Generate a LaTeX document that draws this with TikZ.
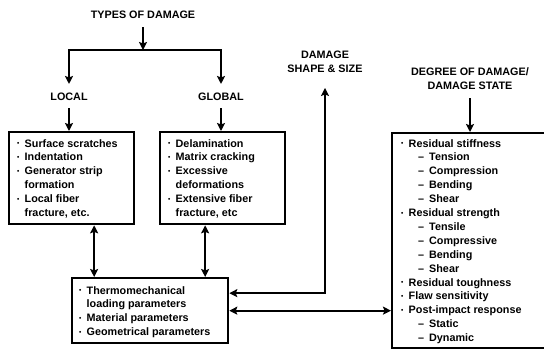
\documentclass[tikz,border=0pt]{standalone}
\usepackage{fontspec}
\setmainfont{Liberation Sans}
\usetikzlibrary{arrows.meta}
\newcommand\dotb{\makebox[7.5pt][l]{\raisebox{1.3pt}{\fontsize{6.5}{6.5}\selectfont •}}}
\newcommand\bl[1]{\dotb#1}
\newcommand\cn[1]{\hspace*{7.5pt}#1}
\newcommand\sbl[1]{\hspace*{17pt}\makebox[11pt][l]{–}#1}
\tikzset{
  boxnode/.style={draw, line width=2.3pt, inner sep=0pt, anchor=north west},
  txt/.style={font=\fontsize{10.8}{13.9}\selectfont\bfseries, align=left, inner sep=0pt, anchor=north west},
  lbl/.style={font=\fontsize{10.8}{13.9}\selectfont\bfseries, align=center, inner sep=2pt},
  tip/.style={},
  arr/.style={line width=2.2pt, -{Stealth[length=8pt,width=8pt,inset=1.5pt]}},
  arrtwo/.style={line width=2.2pt, {Stealth[length=8pt,width=8pt,inset=1.5pt]}-{Stealth[length=8pt,width=8pt,inset=1.5pt]}}
}
\begin{document}
\begin{tikzpicture}[x=1pt,y=-1pt]
\useasboundingbox (0,0) rectangle (544,349);
% boxes
\node[boxnode, minimum width=125pt, minimum height=92pt] (lb) at (8,131) {};
\node[boxnode, minimum width=125pt, minimum height=92pt] (mb) at (159,131) {};
\node[boxnode, minimum width=156pt, minimum height=65pt] (bb) at (71,277) {};
\node[boxnode, minimum width=162pt, minimum height=215pt] (rb) at (391,132) {};
% box texts
\node[txt] (lt) at (17,139) {\bl{Surface scratches}\\ \bl{Indentation}\\ \bl{Generator strip}\\ \cn{formation}\\ \bl{Local fiber}\\ \cn{fracture, etc.}};
\node[txt] (mt) at (168,139) {\bl{Delamination}\\ \bl{Matrix cracking}\\ \bl{Excessive}\\ \cn{deformations}\\ \bl{Extensive fiber}\\ \cn{fracture, etc}};
\node[txt] (bt) at (79,286) {\bl{Thermomechanical}\\ \cn{loading parameters}\\ \bl{Material parameters}\\ \bl{Geometrical parameters}};
\node[txt] (rt) at (401,139) {\bl{Residual stiffness}\\ \sbl{Tension}\\ \sbl{Compression}\\ \sbl{Bending}\\ \sbl{Shear}\\ \bl{Residual strength}\\ \sbl{Tensile}\\ \sbl{Compressive}\\ \sbl{Bending}\\ \sbl{Shear}\\ \bl{Residual toughness}\\ \bl{Flaw sensitivity}\\ \bl{Post-impact response}\\ \sbl{Static}\\ \sbl{Dynamic}};
% labels
\node[lbl] (tod) at (143,15) {TYPES OF DAMAGE};
\node[lbl] (local) at (69,97) {LOCAL};
\node[lbl] (global) at (221,97) {GLOBAL};
\node[lbl] (ds) at (325,62) {DAMAGE\\SHAPE \& SIZE};
\node[lbl] (deg) at (470,79) {DEGREE OF DAMAGE/\\DAMAGE STATE};
\coordinate (split) at (143,50);
% connectors
\draw[arr] ([yshift=-6pt]tod.south) -- (split);
\draw[arr] (split) -| ([yshift=7pt]local.north);
\draw[arr] (split) -| ([yshift=7pt]global.north);
\draw[arr] ([yshift=-5pt]local.south) -- (local.south |- lb.north);
\draw[arr] ([yshift=-5pt]global.south) -- (global.south |- mb.north);
\draw[arrtwo] ([xshift=22.5pt]lb.south) -- ([xshift=22.5pt]lb.south |- bb.north);
\draw[arrtwo] ([xshift=-17.5pt]mb.south) -- ([xshift=-17.5pt]mb.south |- bb.north);
\draw[arrtwo] ([yshift=17.5pt]bb.east) -| ([yshift=-13pt]ds.south);
\draw[arrtwo] (bb.east) -- (bb.east -| rb.west);
\draw[arr] ([yshift=-6pt]deg.south) -- (deg.south |- rb.north);
\end{tikzpicture}
\end{document}
